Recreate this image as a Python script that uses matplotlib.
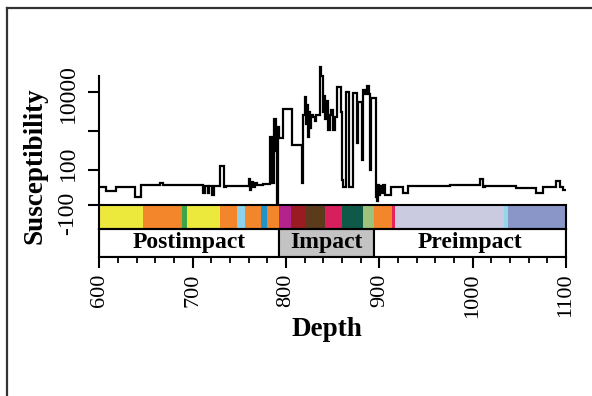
import matplotlib
matplotlib.use("Agg")
import matplotlib.pyplot as plt
import matplotlib.transforms as mtransforms
from matplotlib.lines import Line2D
from matplotlib.ticker import FixedLocator, MultipleLocator, FixedFormatter

plt.rcParams['font.family'] = ['Liberation Serif', 'DejaVu Serif']

# Magnetic susceptibility log (step profile): depth where each value starts
depth = [600, 607, 618, 638, 645, 665, 668, 711,
         713, 716, 718, 721, 723, 729, 734, 736,
         760, 761.5, 763, 765, 767, 769, 775, 782.5,
         785.5, 787.5, 789, 790, 791.5, 793, 796.5, 806,
         817.3, 818, 820.2, 821.5, 822.5, 823.5, 824.5, 825.5,
         827, 828.8, 831, 832, 836.3, 837.5, 839.2, 840,
         841, 842, 843, 844.9, 847, 848.5, 850.2, 852,
         854.2, 858.5, 860, 861.2, 864.1, 867.7, 872, 875.6,
         877.3, 881, 882.7, 885, 887, 888.5, 889.8, 891.6,
         896.3, 897.5, 898.5, 900, 901, 903, 904, 906,
         913, 925, 930.5, 975.5, 1007.6, 1010.8, 1013, 1046.9,
         1068.3, 1075.4, 1089.7, 1093.3, 1096.8, 1100]
susceptibility = [7, -30, 7, -61, 20, 35, 18, -45,
                  15, -50, 12, -55, 15, 127, 8, 12,
                  58, -20, 50, 0, 40, 20, 30, 700,
                  40, 2000, 300, -200, 1300, 650, 3600, 440,
                  36, 2600, 7500, 1500, 4500, 700, 3000, 1200,
                  2500, 2300, 1800, 2600, 44000, 25000, 9300, 3000,
                  8000, 2000, 6000, 1060, 2600, 3500, 1060, 2300,
                  13700, 3100, 55, 7, 10200, 7, 9270, 490,
                  5640, 180, 11250, 9000, 14500, 9000, 100, 6890,
                  -61, -80, 20, -55, 15, -50, 20, -55,
                  7, -45, 13, 20, 58, 7, 13, -2,
                  -50, 7, 53, 7, -22, -22]

# Lithological units along the core
unit_edges = [600, 647, 689, 694, 729, 747, 756, 773, 780, 793, 805,
              821, 842, 859.5, 882.7, 894, 914, 917, 1034, 1038, 1100]
unit_colors = ['#ECE83C', '#F3862A', '#3DA548', '#ECE83C', '#F3862A',
               '#8CD2EC', '#F3862A', '#2293C6', '#F3862A', '#B4238C',
               '#9A1C22', '#5C3A1C', '#D61F5C', '#0F5948', '#9EC27C',
               '#F3862A', '#E6245A', '#CACAE1', '#94D6EA', '#8A96C7']

# Impact stratigraphy intervals
zone_names = ['Postimpact', 'Impact', 'Preimpact']
zone_edges = [600, 792, 894, 1100]
zone_fill = ['white', '#C3C3C3', 'white']

y_ticks = [-100, 100, 1000, 10000]
y_labels = ['-100', '100', '', '10000']
# small vertical nudges (pixels) keeping neighbouring tick labels apart
y_label_shift = [-8, 7, 0, -2]

W, H = 592, 396
fig = plt.figure(figsize=(W / 100, H / 100), dpi=100)

def frac(x0, y_top, x1, y_bot):
    return [x0 / W, 1 - y_bot / H, (x1 - x0) / W, (y_bot - y_top) / H]

x_left, x_right = 99.3, 566.0
ax = fig.add_axes(frac(x_left, 64.7, x_right, 205))
ax_units = fig.add_axes(frac(x_left, 205, x_right, 228.5), sharex=ax)
ax_zone = fig.add_axes(frac(x_left, 228.5, x_right, 257), sharex=ax)

# susceptibility profile
ax.step(depth, susceptibility, where='post', color='black', lw=1.6,
        solid_joinstyle='miter')
ax.set_yscale('symlog', linthresh=50, linscale=0.133)
ax.set_ylim(-100, 50000)
ax.set_xlim(600, 1100)
for s in ['top', 'right', 'bottom']:
    ax.spines[s].set_visible(False)
ax.spines['left'].set_linewidth(1.5)
ax.spines['left'].set_bounds(-100, 25700)
ax.yaxis.set_major_locator(FixedLocator(y_ticks))
ax.yaxis.set_major_formatter(FixedFormatter(y_labels))
ax.yaxis.set_minor_locator(FixedLocator([]))
ax.tick_params(axis='y', length=8, width=1.5, pad=7, labelsize=17)
ax.tick_params(axis='x', bottom=False, labelbottom=False)
fig.canvas.draw()
for t, dy in zip(ax.get_yticklabels(), y_label_shift):
    t.set_rotation(90)
    t.set_va('center')
    t.set_transform(t.get_transform() +
                    mtransforms.ScaledTranslation(0, dy / 100, fig.dpi_scale_trans))

# lithology strip
widths = [b - a for a, b in zip(unit_edges[:-1], unit_edges[1:])]
ax_units.bar(unit_edges[:-1], 1, width=widths, align='edge',
             color=unit_colors, linewidth=0)
ax_units.set_ylim(0, 1)
ax_units.set_yticks([])
ax_units.tick_params(axis='x', bottom=False, labelbottom=False)
for s in ax_units.spines.values():
    s.set_linewidth(1.5)

# stratigraphic zones
for name, a, b, c in zip(zone_names, zone_edges[:-1], zone_edges[1:], zone_fill):
    ax_zone.bar(a, 1, width=b - a, align='edge', color=c,
                edgecolor='black', linewidth=1.5)
    ax_zone.text((a + b) / 2, 0.5, name, ha='center', va='center',
                 fontsize=17, fontweight='bold')
ax_zone.set_ylim(0, 1)
ax_zone.set_yticks([])
for s in ax_zone.spines.values():
    s.set_linewidth(1.5)
ax_zone.xaxis.set_major_locator(MultipleLocator(100))
ax_zone.xaxis.set_minor_locator(MultipleLocator(20))
ax_zone.tick_params(axis='x', which='major', length=8, width=1.5, pad=4,
                    labelsize=16, labelrotation=90)
ax_zone.tick_params(axis='x', which='minor', length=4.5, width=1.3)
ax_zone.set_xlim(600, 1100)

fig.text(35 / W, 1 - 166 / H, 'Susceptibility', rotation=90, ha='center',
         va='center', fontsize=19.5, fontweight='bold')
fig.text(327 / W, 1 - 330 / H, 'Depth', ha='center', va='center',
         fontsize=19.5, fontweight='bold')

# frame around the figure
fig.add_artist(Line2D([7 / W, 7 / W], [0, 1 - 8 / H], transform=fig.transFigure,
                      color='#333333', lw=1.6))
fig.add_artist(Line2D([7 / W, 1], [1 - 8 / H, 1 - 8 / H], transform=fig.transFigure,
                      color='#333333', lw=1.6))

fig.savefig('out.png', dpi=100, facecolor='white')
